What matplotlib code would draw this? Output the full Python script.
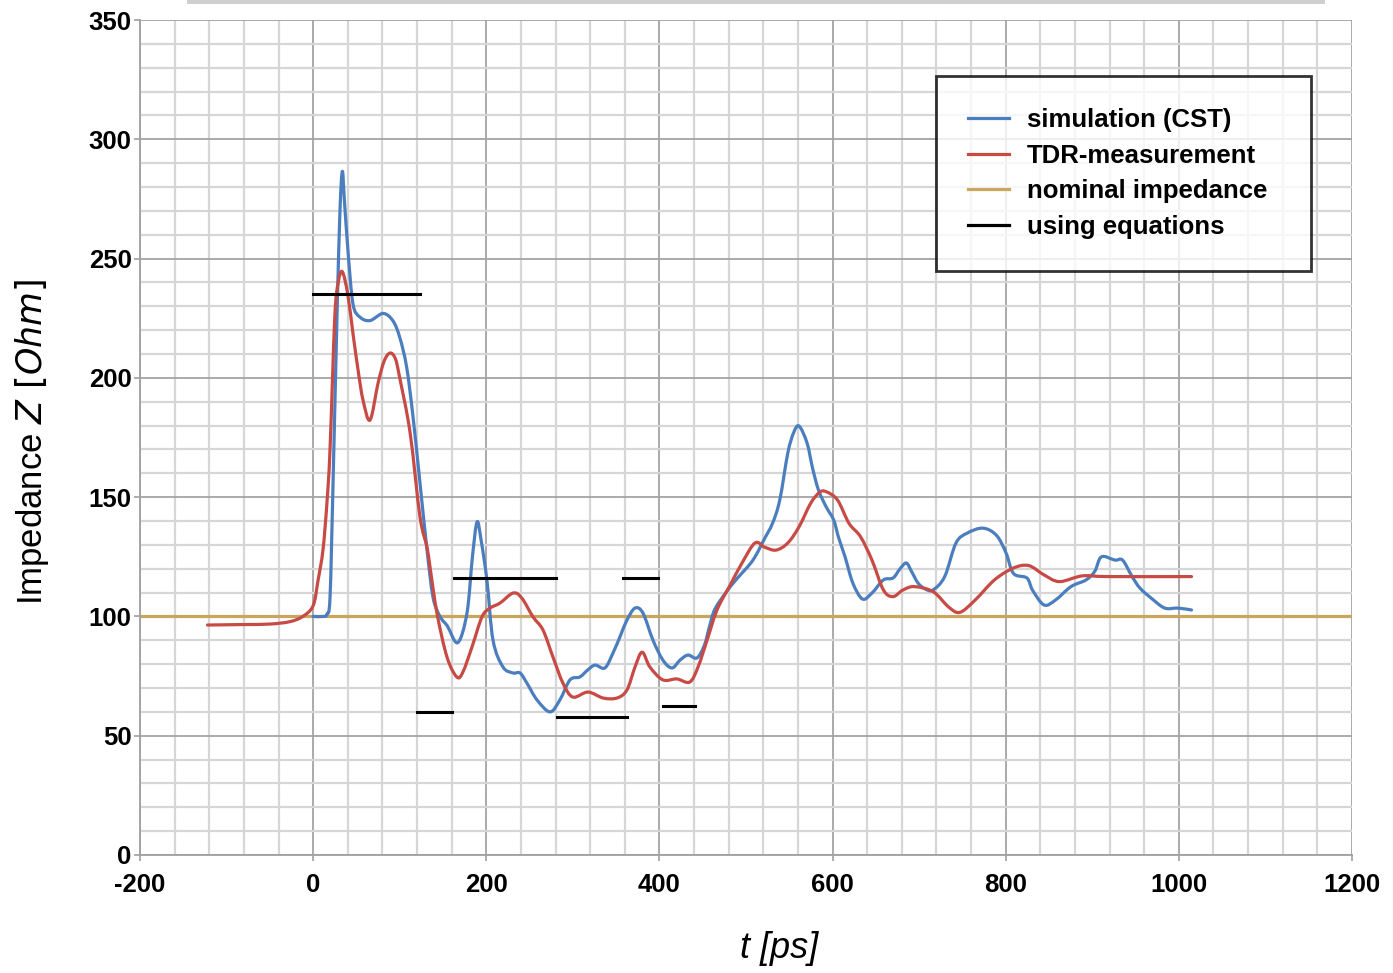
import matplotlib
matplotlib.use("Agg")
import matplotlib.pyplot as plt
from matplotlib.patches import Rectangle, PathPatch
from matplotlib.path import Path
from matplotlib.lines import Line2D
from matplotlib.ticker import MultipleLocator
import numpy as np

# ---------------- data ----------------
sim_t = [0, 12, 16, 19.5, 23, 27.5, 31, 33.7, 36, 40.3, 46, 54, 65.7, 80.7, 92, 100, 108,
         115.4, 123.4, 131.5, 138.5, 146.5, 155, 167, 177.7, 184, 189.3, 194, 200.8, 207.8,
         219.3, 231, 239, 247, 258.6, 273.6, 285, 296.7, 308, 317, 325.6, 337, 346.4, 355,
         362.5, 371.8, 381, 392.6, 404, 414.5, 423.8, 433, 443.4, 452, 458, 464, 477.5, 490,
         508, 521.7, 530.6, 539, 548.3, 555, 561.3, 570.5, 577, 583.7, 592.5, 601.3, 607,
         614.4, 623.4, 634.5, 645.5, 658.7, 669.8, 678, 685.2, 691, 698.7, 707, 716, 729.5,
         742.6, 756, 773.8, 789.3, 800.4, 809, 824.5, 831, 844.3, 857.6, 875.4, 892.8, 903,
         910.6, 926.3, 935, 946, 955, 968, 983.7, 999, 1014.6]
sim_z = [100, 100, 101, 108, 156, 225, 270, 286.5, 275, 253, 231, 225.5, 224, 227, 224, 217,
         204.5, 183.6, 156, 128, 108, 100, 96, 89, 101.4, 125, 139.6, 132, 115, 90, 78.8, 76.3,
         76.3, 72, 65, 60, 65, 73.4, 74.6, 77.5, 79.6, 78.4, 84.7, 92, 98.5, 103.5, 101.4, 90,
         81.7, 78.4, 81.7, 83.8, 82.6, 88, 96, 103, 110.4, 116, 123.6, 132.8, 139, 148.8, 168.5,
         177, 179.8, 172.7, 162, 153, 146, 140.4, 133, 125, 114, 107.3, 109.8, 115.3, 116.1, 120,
         122.4, 119, 114, 111.5, 111.1, 116.7, 130.8, 135, 137, 134, 126.6, 118, 116.1, 111,
         104.8, 106.9, 112.5, 115.3, 119, 125, 123.6, 123.6, 116.7, 111.9, 107.7, 103.5, 103.5,
         102.7]

tdr_t = [-122, -80, -50, -27, -12, 0, 5.6, 11.4, 16, 19.5, 25, 29, 33.7, 40, 46, 52, 57.6,
         65.7, 75, 82, 88.8, 95, 100, 112, 123.4, 131.5, 135, 143, 154.6, 166, 173, 183.5, 195,
         204.3, 215.8, 231, 241, 254, 265.5, 277, 288.6, 300, 317.5, 335, 351, 362.5, 371.8,
         380, 389, 404, 420, 435, 444.6, 455, 466.5, 481.5, 495.4, 510.4, 521.7, 534.7, 548.3,
         561.3, 574.8, 585, 592.5, 605.7, 619, 632.3, 645.5, 658.7, 669.8, 681, 694, 716, 733.9,
         747, 764.8, 787, 809, 826.7, 844.3, 862, 888.6, 919, 1014.6]
tdr_z = [96.4, 96.6, 96.8, 97.8, 100, 104.5, 115, 128, 148, 170, 225.5, 240, 244.5, 235, 218.6,
         203, 190.7, 182.3, 197.8, 207, 210.4, 208, 200, 177, 141.8, 129, 120.7, 101.4, 83, 74.6,
         76.7, 87.2, 99.8, 103.5, 105.6, 109.8, 107.7, 99.8, 94.3, 83, 72, 66.2, 68.3, 65.8,
         65.8, 69.2, 78.8, 85, 78.8, 73.4, 73.8, 72.5, 78.8, 90, 102.7, 113, 122.4, 130.8, 129,
         127.8, 130.8, 137.6, 147.5, 152, 152.3, 148.8, 139, 133.4, 123.6, 111.1, 108.3, 111,
         112.5, 110.4, 104, 101.7, 106.9, 115.3, 120.3, 121.3, 117.4, 114.6, 117, 116.7, 116.7]

nominal_t = [-200, 1200]
nominal_z = [100, 100]

eq_start = [0, 120, 163, 282, 358, 404]
eq_end = [123, 160, 280, 363, 398, 441]
eq_z = [235, 60, 116, 58, 116, 62.5]

labels = ["simulation (CST)", "TDR-measurement", "nominal impedance", "using equations"]

# ---------------- style ----------------
plt.rcParams['font.family'] = ['Liberation Sans', 'DejaVu Sans']
plt.rcParams['axes.unicode_minus'] = False
BLUE = '#4a7ebf'
RED = '#c84a45'
GOLD = '#c9a55d'


def smooth_path(xs, ys):
    """Smooth (Catmull-Rom as cubic Bezier) path through the given data points."""
    P = np.column_stack([xs, ys]).astype(float)
    n = len(P)
    verts = [P[0]]
    codes = [Path.MOVETO]
    for i in range(n - 1):
        p0 = P[i - 1] if i > 0 else P[i]
        p1 = P[i]
        p2 = P[i + 1]
        p3 = P[i + 2] if i + 2 < n else P[i + 1]
        c1 = p1 + (p2 - p0) / 6.0
        c2 = p2 - (p3 - p1) / 6.0
        verts += [c1, c2, p2]
        codes += [Path.CURVE4] * 3
    return Path(verts, codes)


fig = plt.figure(figsize=(13.93, 9.73), dpi=100)
ax = fig.add_axes([140/1393, 1-855/973, (1352-140)/1393, (855-20)/973])

ax.set_xlim(-200, 1200)
ax.set_ylim(0, 350)
ax.xaxis.set_major_locator(MultipleLocator(200))
ax.xaxis.set_minor_locator(MultipleLocator(40))
ax.yaxis.set_major_locator(MultipleLocator(50))
ax.yaxis.set_minor_locator(MultipleLocator(10))
ax.grid(which='major', color='#a4a4a4', linewidth=1.3, zorder=0)
ax.grid(which='minor', color='#d6d6d6', linewidth=1.6, zorder=0)
ax.set_axisbelow(True)
for s in ['top', 'right']:
    ax.spines[s].set_visible(False)
for s in ['left', 'bottom']:
    ax.spines[s].set_color('#a0a0a0')
    ax.spines[s].set_linewidth(1.3)
ax.tick_params(which='major', length=4, color='#a0a0a0', width=1.2, labelsize=18.5, pad=2)
ax.tick_params(axis='x', which='major', pad=9)
ax.tick_params(which='minor', length=0)
for lab in ax.get_xticklabels() + ax.get_yticklabels():
    lab.set_fontweight('bold')

lw = 2.3
ax.add_patch(PathPatch(smooth_path(sim_t, sim_z), facecolor='none', edgecolor=BLUE, lw=lw,
                       zorder=3, joinstyle='round', capstyle='round'))
ax.add_patch(PathPatch(smooth_path(tdr_t, tdr_z), facecolor='none', edgecolor=RED, lw=lw,
                       zorder=4, joinstyle='round', capstyle='round'))
ax.plot(nominal_t, nominal_z, color=GOLD, lw=lw, zorder=2)
for a, b, z in zip(eq_start, eq_end, eq_z):
    ax.plot([a, b], [z, z], color='black', lw=2.2, zorder=5)

handles = [Line2D([], [], color=BLUE, lw=2.3), Line2D([], [], color=RED, lw=2.3),
           Line2D([], [], color=GOLD, lw=2.3), Line2D([], [], color='black', lw=2.3)]
leg = ax.legend(handles, labels, loc='upper left',
                bbox_to_anchor=(936/1393, 1-269/973, (1311-936)/1393, (269-76)/973),
                bbox_transform=fig.transFigure, mode='expand',
                prop={'size': 18.5, 'weight': 'bold'}, frameon=True,
                fancybox=False, edgecolor='black', handlelength=1.6,
                handletextpad=0.7, labelspacing=0.45, borderpad=1.25,
                borderaxespad=0)
leg.get_frame().set_linewidth(2)
leg.set_zorder(10)

# axis labels
fig.text(32/1393, 1-442/973, r"Impedance $\it{Z\ [Ohm]}$", rotation=90,
         ha='center', va='center', fontsize=25)
fig.text(779/1393, 1-948/973, "t [ps]", style='italic', ha='center', va='center',
         fontsize=26)

# top gray bar (shadow remnant)
fig.add_artist(Rectangle((187/1393, 1-4/973), (1325-187)/1393, 4/973,
                         transform=fig.transFigure, color='#cfcfcf', lw=0))

fig.savefig('out.png', dpi=100)
